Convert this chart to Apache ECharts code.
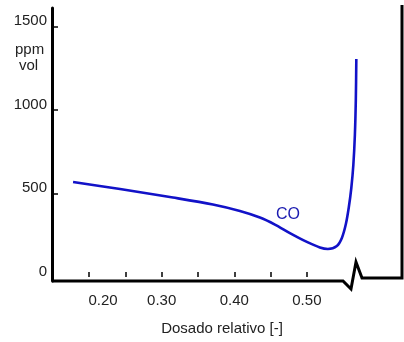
<!DOCTYPE html>
<html><head><meta charset="utf-8">
<script src="https://cdn.jsdelivr.net/npm/echarts@6/dist/echarts.min.js"></script>
<style>html,body{margin:0;padding:0;background:#fff}#c{width:404px;height:342px}</style>
</head><body><div id="c"></div>
<script>
const xValues = [0.1780, 0.2427, 0.3156, 0.3706, 0.4078, 0.4353, 0.4560, 0.4766, 0.5000, 0.5179, 0.5289, 0.5413, 0.5482, 0.5537, 0.5578, 0.5612, 0.5640, 0.5661, 0.5674, 0.5681];
const coValues = [569, 527, 476, 434, 395, 356, 314, 263, 210, 177, 168, 186, 234, 317, 419, 533, 671, 850, 1060, 1305];
const xTickValues = [0.2, 0.25, 0.3, 0.35, 0.4, 0.45, 0.5];
const xLabelValues = [0.2, 0.3, 0.4, 0.5];
const yTickValues = [500, 1000, 1500];
const yLabelValues = [0, 500, 1000, 1500];
const seriesName = 'CO';

const font = "'Liberation Sans', Arial, sans-serif";
const chart = echarts.init(document.getElementById('c'));
chart.setOption({
  animation: false,
  grid: {left: 52, right: 2, top: 8, bottom: 61},
  xAxis: {
    type: 'value', min: 0.149, max: 0.631,
    axisLine: {show: false},
    splitLine: {show: false},
    axisTick: {show: true, inside: true, length: 5, customValues: xTickValues, lineStyle: {color: '#000', width: 1.5}},
    axisLabel: {
      customValues: xLabelValues, margin: 12, fontSize: 15, color: '#222', fontFamily: font,
      formatter: v => Math.abs(v - 0.2) < 1e-6 ? '{a|0.20}' : v.toFixed(2),
      rich: {a: {fontSize: 15, color: '#222', fontFamily: font, padding: [0, 0, 0, 28]}}
    },
    name: 'Dosado relativo [-]', nameLocation: 'middle', nameGap: 40,
    nameTextStyle: {fontSize: 15, color: '#222', fontFamily: font, padding: [0, 10, 0, 0]}
  },
  yAxis: {
    type: 'value', min: -24, max: 1611,
    axisLine: {show: true, lineStyle: {color: '#000', width: 3}},
    splitLine: {show: false},
    axisTick: {show: true, inside: true, length: 6, customValues: yTickValues, lineStyle: {color: '#000', width: 1.5}},
    axisLabel: {customValues: yLabelValues, formatter: v => String(v), margin: 5, fontSize: 15, color: '#222', fontFamily: font, verticalAlign: 'bottom', lineHeight: 11}
  },
  graphic: [
    {type: 'polyline', shape: {points: [[52, 281], [343, 281], [351, 289], [356, 262], [362, 278], [402, 278], [402, 5]]},
     style: {stroke: '#000', lineWidth: 3, fill: null, lineJoin: 'miter'}},
    {type: 'text', left: 15, top: 42, style: {text: 'ppm', font: '15px ' + font, fill: '#222'}},
    {type: 'text', left: 19, top: 58, style: {text: 'vol', font: '15px ' + font, fill: '#222'}}
  ],
  series: [{
    name: seriesName, type: 'line', smooth: 0.3, showSymbol: false,
    data: xValues.map((x, i) => [x, coValues[i]]),
    lineStyle: {color: '#1212c8', width: 2.6},
    markPoint: {
      symbol: 'circle', symbolSize: 1,
      itemStyle: {color: 'rgba(0,0,0,0)'},
      data: [{coord: [0.474, 371], value: seriesName}],
      label: {show: true, formatter: seriesName, color: '#1a1ab0', fontSize: 16, fontFamily: font, position: 'inside'}
    }
  }]
});
</script></body></html>
